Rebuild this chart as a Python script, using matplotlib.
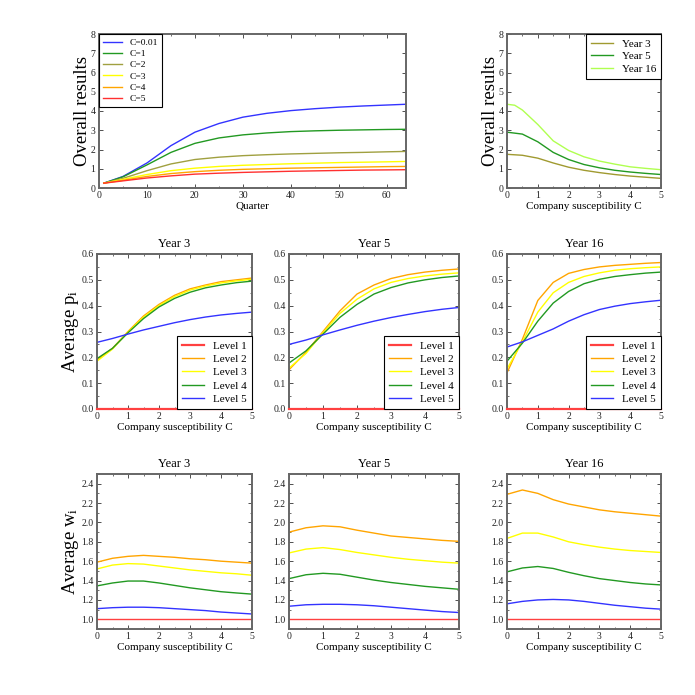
import numpy as np
import matplotlib
matplotlib.use("Agg")
import matplotlib.pyplot as plt
from matplotlib.ticker import MultipleLocator, FormatStrFormatter

plt.rcParams["font.family"] = ["Liberation Serif", "DejaVu Serif"]
plt.rcParams["mathtext.fontset"] = "stix"

# ---- data ----
quarters = [1, 5, 10, 15, 20, 25, 30, 35, 40, 45, 50, 55, 60, 64]
c_labels = ["C=0.01", "C=1", "C=2", "C=3", "C=4", "C=5"]
overall_by_c = [
    [0.25, 0.60, 1.30, 2.20, 2.90, 3.35, 3.68, 3.88, 4.02, 4.12, 4.20, 4.26, 4.31, 4.35],
    [0.25, 0.58, 1.20, 1.85, 2.32, 2.60, 2.76, 2.86, 2.93, 2.97, 3.00, 3.02, 3.04, 3.05],
    [0.25, 0.50, 0.90, 1.25, 1.48, 1.60, 1.68, 1.73, 1.77, 1.80, 1.83, 1.85, 1.88, 1.90],
    [0.25, 0.45, 0.70, 0.90, 1.03, 1.12, 1.18, 1.22, 1.26, 1.29, 1.32, 1.34, 1.36, 1.38],
    [0.25, 0.40, 0.60, 0.75, 0.85, 0.92, 0.97, 1.00, 1.03, 1.05, 1.07, 1.09, 1.11, 1.12],
    [0.25, 0.37, 0.52, 0.63, 0.72, 0.77, 0.81, 0.84, 0.87, 0.89, 0.91, 0.93, 0.94, 0.95],
]
c_colors = ["#3333ff", "#229922", "#a0a040", "#ffff00", "#ffa500", "#ff3030"]

c_vals = [0, 0.5, 1, 1.5, 2, 2.5, 3, 3.5, 4, 4.5, 5]
c_vals16 = [0, 0.25, 0.5, 1, 1.5, 2, 2.5, 3, 3.5, 4, 4.5, 5]
year_labels = ["Year 3", "Year 5", "Year 16"]
overall_y3 = [1.75, 1.70, 1.55, 1.30, 1.08, 0.92, 0.80, 0.70, 0.62, 0.56, 0.50]
overall_y5 = [2.90, 2.80, 2.40, 1.85, 1.48, 1.22, 1.05, 0.92, 0.83, 0.76, 0.70]
overall_y16 = [4.35, 4.30, 4.05, 3.30, 2.45, 1.95, 1.62, 1.40, 1.24, 1.10, 1.02, 0.95]
year_colors = ["#a09a30", "#229922", "#b0ff50"]

level_labels = ["Level 1", "Level 2", "Level 3", "Level 4", "Level 5"]
level_colors = ["#ff4040", "#ffa500", "#ffff00", "#229922", "#3333ff"]

p_year3 = [
    [0.0] * 11,
    [0.190, 0.235, 0.300, 0.360, 0.405, 0.440, 0.465, 0.480, 0.493, 0.500, 0.507],
    [0.185, 0.232, 0.298, 0.355, 0.400, 0.435, 0.460, 0.476, 0.488, 0.496, 0.502],
    [0.195, 0.235, 0.295, 0.350, 0.395, 0.428, 0.452, 0.469, 0.480, 0.489, 0.495],
    [0.258, 0.273, 0.290, 0.306, 0.320, 0.334, 0.346, 0.356, 0.364, 0.370, 0.375],
]
p_year5 = [
    [0.0] * 11,
    [0.152, 0.220, 0.300, 0.380, 0.445, 0.480, 0.505, 0.520, 0.530, 0.537, 0.542],
    [0.158, 0.215, 0.295, 0.370, 0.425, 0.465, 0.490, 0.505, 0.515, 0.522, 0.527],
    [0.178, 0.225, 0.290, 0.355, 0.405, 0.445, 0.470, 0.488, 0.500, 0.509, 0.515],
    [0.250, 0.267, 0.287, 0.306, 0.324, 0.340, 0.354, 0.366, 0.377, 0.386, 0.393],
]
p_year16 = [
    [0.0] * 11,
    [0.140, 0.270, 0.420, 0.490, 0.525, 0.540, 0.550, 0.556, 0.560, 0.564, 0.567],
    [0.155, 0.260, 0.375, 0.450, 0.490, 0.513, 0.527, 0.537, 0.543, 0.547, 0.550],
    [0.185, 0.255, 0.340, 0.410, 0.455, 0.485, 0.502, 0.513, 0.520, 0.526, 0.530],
    [0.240, 0.260, 0.285, 0.310, 0.340, 0.365, 0.385, 0.398, 0.408, 0.415, 0.421],
]

w_year3 = [
    [1.0] * 11,
    [1.590, 1.630, 1.650, 1.660, 1.650, 1.640, 1.625, 1.615, 1.600, 1.590, 1.580],
    [1.520, 1.560, 1.575, 1.570, 1.550, 1.530, 1.510, 1.495, 1.480, 1.470, 1.455],
    [1.345, 1.375, 1.395, 1.395, 1.375, 1.350, 1.325, 1.305, 1.285, 1.272, 1.260],
    [1.110, 1.120, 1.125, 1.125, 1.120, 1.110, 1.100, 1.090, 1.075, 1.065, 1.055],
]
w_year5 = [
    [1.0] * 11,
    [1.900, 1.945, 1.965, 1.955, 1.920, 1.890, 1.860, 1.845, 1.830, 1.815, 1.805],
    [1.685, 1.725, 1.740, 1.720, 1.690, 1.665, 1.640, 1.620, 1.605, 1.590, 1.580],
    [1.420, 1.460, 1.475, 1.465, 1.435, 1.405, 1.380, 1.360, 1.340, 1.325, 1.310],
    [1.135, 1.150, 1.155, 1.155, 1.150, 1.140, 1.125, 1.110, 1.095, 1.080, 1.070],
]
w_year16 = [
    [1.0] * 11,
    [2.290, 2.335, 2.300, 2.235, 2.190, 2.160, 2.130, 2.110, 2.095, 2.080, 2.065],
    [1.835, 1.890, 1.890, 1.850, 1.800, 1.770, 1.745, 1.725, 1.710, 1.700, 1.690],
    [1.490, 1.530, 1.545, 1.525, 1.485, 1.450, 1.420, 1.400, 1.380, 1.365, 1.355],
    [1.160, 1.185, 1.200, 1.205, 1.200, 1.185, 1.165, 1.145, 1.130, 1.115, 1.105],
]

W = H = 695.0


def rect(l, t, r, b):
    return [l / W, 1 - b / H, (r - l) / W, (b - t) / H]


def style(ax, xmaj, xmin, ymaj, ymin):
    for s in ax.spines.values():
        s.set_color("#666666")
        s.set_linewidth(1.4)
    ax.xaxis.set_major_locator(MultipleLocator(xmaj))
    ax.xaxis.set_minor_locator(MultipleLocator(xmin))
    ax.yaxis.set_major_locator(MultipleLocator(ymaj))
    ax.yaxis.set_minor_locator(MultipleLocator(ymin))
    ax.tick_params(which="both", direction="in", top=True, right=True,
                   labelsize=7, color="#333333", labelcolor="#222222", pad=2.5)
    ax.tick_params(which="major", length=3, width=0.6)
    ax.tick_params(which="minor", length=1.5, width=0.5)


def legend(ax, loc, size, hlen, spacing):
    lg = ax.legend(loc=loc, fontsize=size, borderaxespad=0, fancybox=False,
                   handlelength=hlen, framealpha=1, labelspacing=spacing,
                   borderpad=0.45, handletextpad=0.8)
    lg.get_frame().set_edgecolor("black")
    lg.get_frame().set_linewidth(0.8)
    lg.set_zorder(5)


def draw(ax, x, vals, col, lab):
    # the flat baseline sits on the frame, so let it spill over it
    flat = min(vals) == max(vals)
    ax.plot(x, vals, color=col, lw=1.6 if flat else 1.0, label=lab,
            clip_on=not flat, zorder=3 if flat else 2)


fig = plt.figure(figsize=(6.95, 6.95), dpi=100)

# top left: results over time
ax = fig.add_axes(rect(99, 34, 406, 188))
for lab, vals, col in zip(c_labels, overall_by_c, c_colors):
    ax.plot(quarters, vals, color=col, lw=1.0, label=lab)
ax.set_xlim(0, 64)
ax.set_ylim(0, 8)
style(ax, 10, 5, 1, 1)
ax.set_xlabel("Quarter", fontsize=8, labelpad=1)
ax.set_ylabel("Overall results", fontsize=13.5, labelpad=0)
legend(ax, "upper left", 6.8, 2.0, 0.28)

# top right: results vs susceptibility
ax = fig.add_axes(rect(507, 34, 661, 188))
ax.plot(c_vals, overall_y3, color=year_colors[0], lw=1.0, label=year_labels[0])
ax.plot(c_vals, overall_y5, color=year_colors[1], lw=1.0, label=year_labels[1])
ax.plot(c_vals16, overall_y16, color=year_colors[2], lw=1.0, label=year_labels[2])
ax.set_xlim(0, 5)
ax.set_ylim(0, 8)
style(ax, 1, 0.5, 1, 1)
ax.set_xlabel("Company susceptibility C", fontsize=8, labelpad=1)
ax.set_ylabel("Overall results", fontsize=13.5, labelpad=0)
legend(ax, "upper right", 8, 2.0, 0.25)

cols = [(97, 252), (289, 459), (507, 661)]
p_sets = [p_year3, p_year5, p_year16]
w_sets = [w_year3, w_year5, w_year16]

for i, ((l, r), title, pset, wset) in enumerate(zip(cols, year_labels, p_sets, w_sets)):
    ax = fig.add_axes(rect(l, 254, r, 409))
    for lab, vals, col in zip(level_labels, pset, level_colors):
        draw(ax, c_vals, vals, col, lab)
    ax.set_xlim(0, 5)
    ax.set_ylim(0, 0.6)
    style(ax, 1, 0.5, 0.1, 0.05)
    ax.yaxis.set_major_formatter(FormatStrFormatter("%.1f"))
    ax.set_title(title, fontsize=9, pad=5)
    ax.set_xlabel("Company susceptibility C", fontsize=8, labelpad=1)
    if i == 0:
        ax.set_ylabel("Average $\\mathregular{p_i}$", fontsize=13.5, labelpad=0)
    legend(ax, "lower right", 8, 2.0, 0.32)

    ax = fig.add_axes(rect(l, 474, r, 629))
    for lab, vals, col in zip(level_labels, wset, level_colors):
        ax.plot(c_vals, vals, color=col, lw=1.0, label=lab)
    ax.set_xlim(0, 5)
    ax.set_ylim(0.9, 2.5)
    style(ax, 1, 0.5, 0.2, 0.1)
    ax.yaxis.set_major_formatter(FormatStrFormatter("%.1f"))
    ax.set_title(title, fontsize=9, pad=5)
    ax.set_xlabel("Company susceptibility C", fontsize=8, labelpad=1)
    if i == 0:
        ax.set_ylabel("Average $\\mathregular{w_i}$", fontsize=13.5, labelpad=0)

fig.savefig("out.png", dpi=100)
